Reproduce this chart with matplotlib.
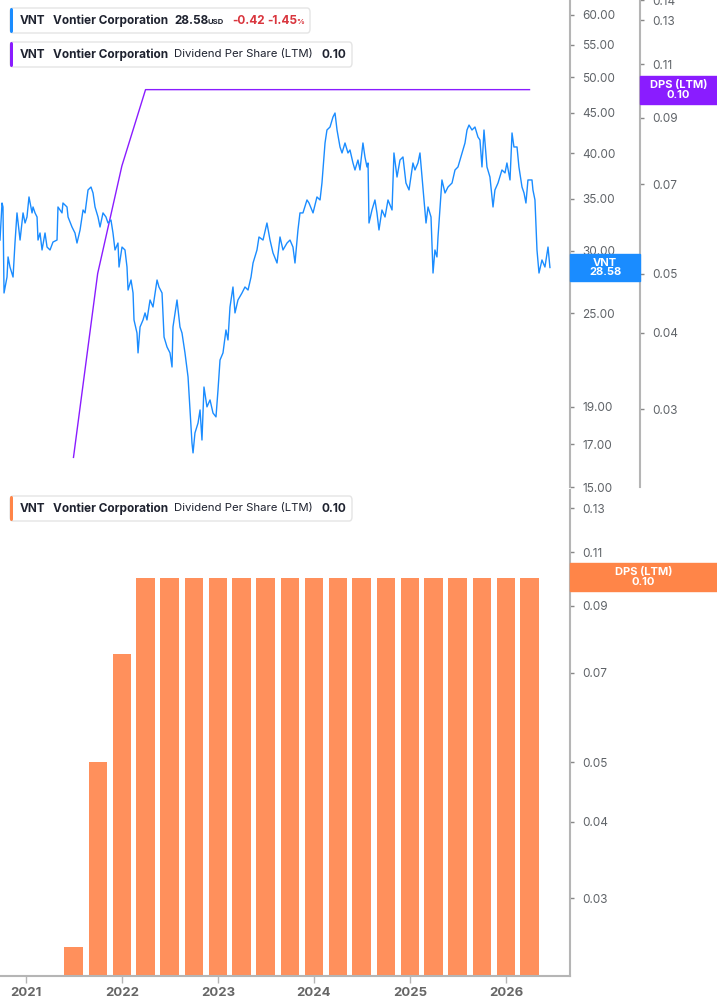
import pandas as pd
import matplotlib
matplotlib.use('Agg')
import matplotlib.pyplot as plt
from matplotlib.patches import FancyBboxPatch, Rectangle
from matplotlib.ticker import FixedLocator, FormatStrFormatter, NullLocator, NullFormatter

W, H = 717, 1005

# VNT closing price (decimal year, USD)
price_t = [2020.729, 2020.750, 2020.760, 2020.771, 2020.802, 2020.813, 2020.833, 2020.865, 2020.885, 2020.906,
           2020.938, 2020.969, 2020.990, 2021.010, 2021.031, 2021.063, 2021.073, 2021.094, 2021.115, 2021.125,
           2021.146, 2021.167, 2021.198, 2021.219, 2021.250, 2021.281, 2021.323, 2021.333, 2021.375, 2021.385,
           2021.427, 2021.438, 2021.479, 2021.510, 2021.531, 2021.563, 2021.594, 2021.615, 2021.646, 2021.677,
           2021.698, 2021.719, 2021.750, 2021.771, 2021.802, 2021.833, 2021.854, 2021.885, 2021.906, 2021.927,
           2021.958, 2021.969, 2022.000, 2022.031, 2022.052, 2022.063, 2022.094, 2022.115, 2022.125, 2022.156,
           2022.167, 2022.188, 2022.219, 2022.240, 2022.260, 2022.292, 2022.323, 2022.365, 2022.385, 2022.417,
           2022.438, 2022.469, 2022.500, 2022.521, 2022.531, 2022.573, 2022.604, 2022.625, 2022.656, 2022.688,
           2022.729, 2022.740, 2022.760, 2022.792, 2022.813, 2022.833, 2022.854, 2022.885, 2022.917, 2022.948,
           2022.979, 2023.000, 2023.021, 2023.052, 2023.083, 2023.104, 2023.125, 2023.156, 2023.177, 2023.208,
           2023.250, 2023.281, 2023.313, 2023.344, 2023.365, 2023.406, 2023.427, 2023.469, 2023.510, 2023.542,
           2023.573, 2023.615, 2023.646, 2023.677, 2023.719, 2023.750, 2023.781, 2023.802, 2023.833, 2023.854,
           2023.885, 2023.927, 2023.948, 2023.990, 2024.031, 2024.063, 2024.083, 2024.115, 2024.135, 2024.167,
           2024.198, 2024.219, 2024.240, 2024.271, 2024.292, 2024.323, 2024.354, 2024.375, 2024.406, 2024.427,
           2024.458, 2024.479, 2024.510, 2024.531, 2024.552, 2024.563, 2024.573, 2024.604, 2024.635, 2024.656,
           2024.677, 2024.708, 2024.740, 2024.771, 2024.813, 2024.833, 2024.865, 2024.896, 2024.927, 2024.958,
           2024.990, 2025.031, 2025.052, 2025.083, 2025.104, 2025.125, 2025.146, 2025.167, 2025.188, 2025.219,
           2025.240, 2025.260, 2025.281, 2025.292, 2025.333, 2025.365, 2025.396, 2025.438, 2025.469, 2025.500,
           2025.542, 2025.573, 2025.594, 2025.615, 2025.646, 2025.677, 2025.708, 2025.729, 2025.750, 2025.771,
           2025.802, 2025.833, 2025.865, 2025.885, 2025.917, 2025.958, 2025.990, 2026.010, 2026.042, 2026.063,
           2026.083, 2026.115, 2026.135, 2026.167, 2026.188, 2026.208, 2026.229, 2026.271, 2026.281, 2026.302,
           2026.323, 2026.344, 2026.375, 2026.406, 2026.438, 2026.458]
price = [30.98, 34.54, 34.14, 26.52, 27.79, 29.48, 28.62, 27.79, 30.71, 33.55,
         30.98, 33.55, 32.57, 33.15, 35.16, 33.55, 34.14, 33.55, 33.15, 30.98,
         31.63, 30.09, 31.63, 30.35, 30.09, 30.80, 30.98, 34.14, 33.55, 34.54,
         34.14, 33.15, 32.19, 31.63, 30.71, 31.91, 33.84, 33.55, 35.89, 36.20,
         35.57, 34.14, 33.15, 32.19, 33.55, 33.15, 32.57, 32.86, 31.63, 30.09,
         30.71, 28.62, 30.35, 30.09, 28.62, 26.75, 27.55, 26.52, 24.50, 23.58,
         22.24, 24.00, 24.50, 25.01, 24.50, 25.98, 25.45, 27.55, 26.99, 26.52,
         23.30, 22.63, 22.24, 21.34, 24.00, 25.98, 24.00, 23.58, 22.24, 20.72,
         17.07, 16.58, 17.58, 18.10, 18.81, 17.22, 20.12, 18.98, 19.37, 18.64,
         18.43, 19.94, 21.78, 22.24, 23.79, 23.10, 25.45, 26.99, 25.01, 25.98,
         26.52, 26.99, 26.75, 27.79, 28.96, 30.09, 31.26, 30.98, 32.57, 30.98,
         29.83, 28.96, 31.26, 30.09, 30.71, 30.98, 30.35, 28.96, 31.91, 33.55,
         33.55, 34.85, 34.54, 33.55, 35.16, 34.85, 36.63, 41.20, 42.80, 43.18,
         44.47, 44.99, 42.80, 40.72, 40.01, 41.20, 40.01, 40.36, 38.85, 38.06,
         39.19, 38.06, 41.20, 39.54, 38.40, 38.85, 32.57, 33.84, 34.85, 33.55,
         31.91, 33.84, 33.15, 34.85, 33.84, 40.01, 37.28, 39.19, 39.54, 36.63,
         35.89, 38.85, 38.06, 38.85, 40.01, 37.28, 34.85, 32.57, 34.14, 33.15,
         28.12, 30.09, 29.48, 31.26, 36.96, 35.57, 36.20, 36.63, 38.06, 38.40,
         40.01, 41.20, 42.80, 43.43, 42.80, 43.18, 41.93, 41.56, 38.40, 42.80,
         38.40, 37.28, 34.14, 35.89, 36.63, 38.06, 37.73, 38.85, 36.96, 42.43,
         40.72, 40.72, 38.40, 36.20, 35.57, 34.54, 36.96, 36.96, 35.89, 34.85,
         30.09, 28.12, 29.22, 28.62, 30.35, 28.58]

# dividend per share, last twelve months, at quarter ends
div_dates = ['2021-06-30', '2021-09-30', '2021-12-31', '2022-03-31', '2022-06-30',
             '2022-09-30', '2022-12-31', '2023-03-31', '2023-06-30', '2023-09-30',
             '2023-12-31', '2024-03-31', '2024-06-30', '2024-09-30', '2024-12-31',
             '2025-03-31', '2025-06-30', '2025-09-30', '2025-12-31', '2026-03-31']
dps = [0.025, 0.05, 0.075, 0.10, 0.10, 0.10, 0.10, 0.10, 0.10, 0.10,
       0.10, 0.10, 0.10, 0.10, 0.10, 0.10, 0.10, 0.10, 0.10, 0.10]

price_ticks = [15, 17, 19, 25, 30, 35, 40, 45, 50, 55, 60]
dps_ticks = [0.03, 0.04, 0.05, 0.07, 0.09, 0.11, 0.13, 0.14]
years = [2021, 2022, 2023, 2024, 2025, 2026]


def dec_year(s):
    d = pd.Timestamp(s)
    n = 366 if d.is_leap_year else 365
    return d.year + (d.dayofyear - 0.5) / n


div_t = [dec_year(d) for d in div_dates]

BLUE = '#1A8CFF'
PURPLE = '#8A1CFF'
ORANGE = '#FF905C'
ORANGE_BOX = '#FF8548'
GRID = '#B5B5B5'
TICKC = '#5F6368'
TXT = '#1F2330'
RED = '#D9363E'

plt.rcParams['font.family'] = ['Inter', 'DejaVu Sans']


def fx(x):
    return x / W


def fy(y):
    return 1 - y / H


def style_log_axis(axis, ticks, fmt):
    axis.set_major_locator(FixedLocator(ticks))
    axis.set_minor_locator(NullLocator())
    axis.set_major_formatter(FormatStrFormatter(fmt))
    axis.set_minor_formatter(NullFormatter())


def right_ticks(ax):
    ax.tick_params(axis='y', which='both', left=False, labelleft=False,
                   right=True, labelright=True, direction='out', length=3, width=1,
                   color='#888888', labelsize=8.5, labelcolor=TICKC, pad=6)


fig = plt.figure(figsize=(W / 100, H / 100), dpi=100)
XMIN, XMAX = 2020.729, 2026.667

# ---- top panel: price + DPS line
ax1 = fig.add_axes([0, fy(487), fx(570), 487 / H])
ax1b = ax1.twinx()

ax1.set_yscale('log')
ax1.plot(price_t, price, color=BLUE, lw=1.0, zorder=3)
ax1.set_xlim(XMIN, XMAX)
ax1.set_ylim(15.0, 62.7)
for s in ['top', 'left', 'bottom']:
    ax1.spines[s].set_visible(False)
ax1.spines['right'].set_color(GRID)
ax1.spines['right'].set_linewidth(1.5)
style_log_axis(ax1.yaxis, price_ticks, '%.2f')
right_ticks(ax1)
ax1.set_xticks([])
ax1.set_zorder(2)
ax1.patch.set_visible(False)

ax1b.set_yscale('log')
ax1b.plot(div_t, dps, color=PURPLE, lw=1.0, zorder=2)
ax1b.set_ylim(0.02236, 0.1402)
for s in ['top', 'left', 'bottom']:
    ax1b.spines[s].set_visible(False)
ax1b.spines['right'].set_position(('axes', 640 / 570))
ax1b.spines['right'].set_color(GRID)
ax1b.spines['right'].set_linewidth(1.5)
style_log_axis(ax1b.yaxis, dps_ticks, '%.2f')
right_ticks(ax1b)
ax1b.set_xlim(XMIN, XMAX)
ax1b.set_zorder(1)

# ---- bottom panel: DPS bars (drawn up from below the visible range)
ax2 = fig.add_axes([0, fy(976), fx(570), (976 - 490) / H])
ax2.set_yscale('log')
base = 0.01
ax2.bar(div_t, [v - base for v in dps], width=0.19, bottom=base, color=ORANGE, zorder=2)
ax2.set_xlim(XMIN, XMAX)
ax2.set_ylim(0.02241, 0.1391)
for s in ['top', 'left']:
    ax2.spines[s].set_visible(False)
for s in ['right', 'bottom']:
    ax2.spines[s].set_color(GRID)
    ax2.spines[s].set_linewidth(1.5)
style_log_axis(ax2.yaxis, dps_ticks[:-1], '%.2f')
right_ticks(ax2)
ax2.set_xticks(years)
ax2.set_xticklabels([str(y) for y in years], fontweight='bold')
ax2.tick_params(axis='x', direction='out', length=5, width=1, color=GRID,
                labelsize=9.5, labelcolor='#666666', pad=3)


# ---- value tags on the axes
def tag(x0, x1, y0, y1, color, lines):
    fig.patches.append(Rectangle((fx(x0), fy(y1)), fx(x1 - x0), (y1 - y0) / H,
                                 transform=fig.transFigure, color=color, zorder=5))
    fig.text(fx((x0 + x1) / 2), fy((y0 + y1) / 2), lines, color='white', fontsize=8,
             fontweight='bold', ha='center', va='center', linespacing=0.92, zorder=6)


tag(570, 640, 254, 281, BLUE, 'VNT\n28.58')
tag(640, 717, 76, 104, PURPLE, 'DPS (LTM)\n0.10')
tag(570, 717, 563, 591, ORANGE_BOX, 'DPS (LTM)\n0.10')


# ---- legend boxes
def legend_box(x0, x1, y0, y1, color):
    fig.patches.append(FancyBboxPatch((fx(x0), fy(y1)), fx(x1 - x0), (y1 - y0) / H,
                                      boxstyle='round,pad=0,rounding_size=0.004',
                                      transform=fig.transFigure, facecolor='white',
                                      edgecolor='#E4E4E4', lw=1, zorder=5))
    fig.patches.append(FancyBboxPatch((fx(x0), fy(y1)), fx(3), (y1 - y0) / H,
                                      boxstyle='round,pad=0,rounding_size=0.002',
                                      transform=fig.transFigure, facecolor=color,
                                      edgecolor='none', zorder=6))


def seg(x, y, s, weight='bold', color=TXT, size=8.5):
    fig.text(fx(x), fy(y), s, fontsize=size, fontweight=weight, color=color,
             ha='left', va='center', zorder=7)


legend_box(10, 310, 8, 33, BLUE)
seg(20, 20.5, 'VNT')
seg(53, 20.5, 'Vontier Corporation')
seg(174, 20.5, '28.58')
seg(208, 21.5, 'USD', size=5.5)
seg(232, 20.5, '-0.42', color=RED)
seg(267, 20.5, '-1.45', color=RED)
seg(296, 21.5, '%', color=RED, size=5.5)

for (y0, y1, col) in [(42, 67, PURPLE), (496, 521, ORANGE_BOX)]:
    yc = (y0 + y1) / 2
    legend_box(10, 352, y0, y1, col)
    seg(20, yc, 'VNT')
    seg(53, yc, 'Vontier Corporation')
    seg(174, yc, 'Dividend Per Share (LTM)', weight='normal', size=8.2)
    seg(322, yc, '0.10')

fig.savefig('out.png', dpi=100)
